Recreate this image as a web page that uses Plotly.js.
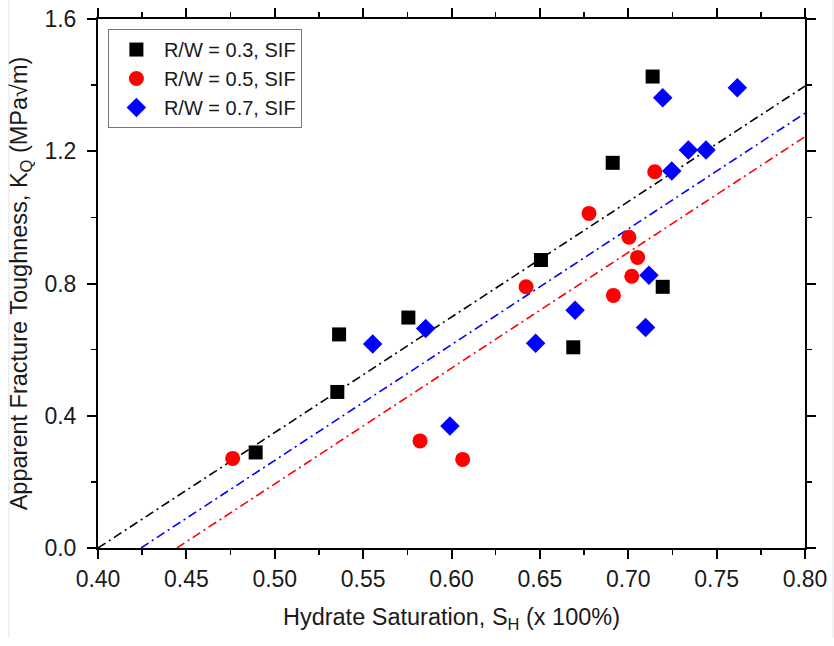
<!DOCTYPE html>
<html>
<head>
<meta charset="utf-8">
<script src="https://cdn.plot.ly/plotly-3.0.1.min.js"></script>
<style>html,body{margin:0;padding:0;background:#fff;}#chart{width:834px;height:646px;}</style>
</head>
<body>
<div id="chart"></div>
<script>
// R/W = 0.3, SIF (black squares)
const rw03X = [0.4892, 0.5364, 0.5354, 0.5756, 0.6506, 0.6912, 0.7138, 0.6689, 0.7195];
const rw03Y = [0.289, 0.646, 0.472, 0.697, 0.871, 1.165, 1.426, 0.607, 0.790];
// R/W = 0.5, SIF (red circles)
const rw05X = [0.4762, 0.5822, 0.6063, 0.6422, 0.6778, 0.7004, 0.7053, 0.7020, 0.6916, 0.7150];
const rw05Y = [0.271, 0.324, 0.268, 0.790, 1.012, 0.940, 0.879, 0.822, 0.764, 1.138];
// R/W = 0.7, SIF (blue diamonds)
const rw07X = [0.5554, 0.5854, 0.5991, 0.6476, 0.6699, 0.7117, 0.7098, 0.7246, 0.7340, 0.7440, 0.7195, 0.7617];
const rw07Y = [0.617, 0.664, 0.369, 0.619, 0.719, 0.825, 0.667, 1.140, 1.204, 1.204, 1.362, 1.392];
// fit lines
const fit03X = [0.400, 0.80], fit03Y = [0, 1.397];
const fit07X = [0.4243, 0.80], fit07Y = [0, 1.315];
const fit05X = [0.4446, 0.80], fit05Y = [0, 1.244];

const FONT = 'Arial, "Liberation Sans", sans-serif';
const dashStyle = '9px,4px,2px,4px';

const traces = [
  {x: fit03X, y: fit03Y, mode: 'lines', line: {color: '#000000', width: 1.6, dash: dashStyle}, showlegend: false, hoverinfo: 'skip'},
  {x: fit07X, y: fit07Y, mode: 'lines', line: {color: '#0000ff', width: 1.6, dash: dashStyle}, showlegend: false, hoverinfo: 'skip'},
  {x: fit05X, y: fit05Y, mode: 'lines', line: {color: '#ff0000', width: 1.6, dash: dashStyle}, showlegend: false, hoverinfo: 'skip'},
  {x: rw03X, y: rw03Y, mode: 'markers', name: 'R/W = 0.3, SIF', marker: {symbol: 'square', size: 14, color: '#000000'}},
  {x: rw05X, y: rw05Y, mode: 'markers', name: 'R/W = 0.5, SIF', marker: {symbol: 'circle', size: 15, color: '#ff0000'}},
  {x: rw07X, y: rw07Y, mode: 'markers', name: 'R/W = 0.7, SIF', marker: {symbol: 'diamond', size: 15, color: '#0000ff'}}
];

const axisCommon = {
  showline: true, linecolor: '#000', linewidth: 2, mirror: 'allticks',
  ticks: 'outside', ticklen: 9, tickwidth: 2, tickcolor: '#000',
  showgrid: false, zeroline: false,
  tickfont: {family: FONT, size: 23, color: '#1a1a1a'}
};

const layout = {
  width: 834, height: 646,
  margin: {l: 98, r: 29, t: 19, b: 98},
  paper_bgcolor: '#fff', plot_bgcolor: '#fff',
  font: {family: FONT, color: '#1a1a1a'},
  xaxis: Object.assign({}, axisCommon, {
    range: [0.40, 0.80], dtick: 0.05, tick0: 0.40, tickformat: '.2f',
    minor: {dtick: 0.025, ticks: 'outside', ticklen: 5, tickwidth: 1.5, tickcolor: '#000'},
    title: {text: 'Hydrate Saturation, S<sub>H</sub> (x 100%)', font: {family: FONT, size: 23.5, color: '#1a1a1a'}, standoff: 18}
  }),
  yaxis: Object.assign({}, axisCommon, {
    range: [0, 1.6], dtick: 0.4, tick0: 0, tickformat: '.1f', ticklabelstandoff: 6,
    minor: {dtick: 0.2, ticks: 'outside', ticklen: 5, tickwidth: 1.5, tickcolor: '#000'},
    title: {text: 'Apparent Fracture Toughness, K<sub>Q</sub> (MPa√m)', font: {family: FONT, size: 23.5, color: '#1a1a1a'}, standoff: 10}
  }),
  legend: {
    x: 0.014, y: 0.981, xanchor: 'left', yanchor: 'top',
    bgcolor: '#fff', bordercolor: '#777', borderwidth: 1,
    font: {family: FONT, size: 20, color: '#1a1a1a'},
    itemwidth: 45, tracegroupgap: 0
  },
  shapes: [
    {type: 'line', xref: 'paper', yref: 'paper', x0: -0.126, x1: -0.126, y0: -0.17, y1: 1.04, line: {color: '#e4e4e4', width: 1}},
    {type: 'line', xref: 'paper', yref: 'paper', x0: 1.0396, x1: 1.0396, y0: -0.17, y1: 1.04, line: {color: '#e4e4e4', width: 1}}
  ]
};

Plotly.newPlot('chart', traces, layout, {displayModeBar: false, staticPlot: true});
</script>
</body>
</html>
